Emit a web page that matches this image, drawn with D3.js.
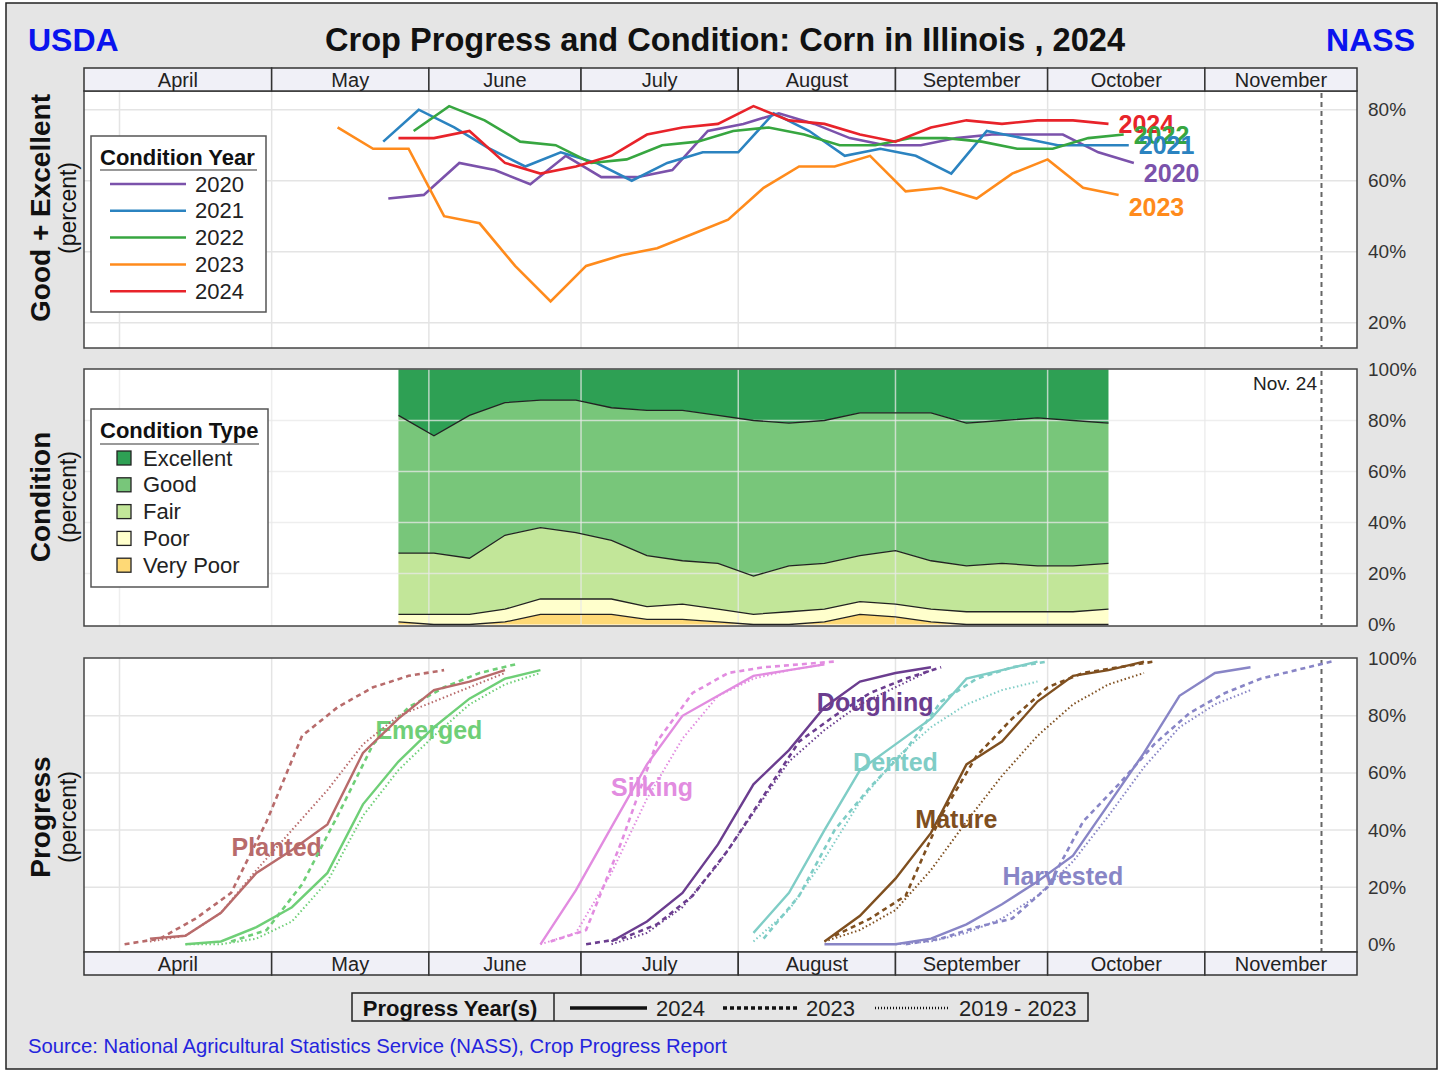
<!DOCTYPE html>
<html>
<head>
  <meta charset="utf-8"/>
  <title>Crop Progress and Condition: Corn in Illinois, 2024</title>
  <style type="text/css">
    body {
      margin:0;
      padding:0;
      background-color:white;
      font-family: "Liberation Sans", Arial, sans-serif;
    }
    svg text { font-family: "Liberation Sans", Arial, sans-serif; }
  </style>
  <script src="https://cdn.jsdelivr.net/npm/d3@7"></script>
</head>
<body>
<script type="text/javascript">

  // ---- DATA ----
  // month header
  var monthNames = ["April", "May", "June", "July", "August", "September", "October", "November"];
  var monthEdges = ["2024-03-25", "2024-05-01", "2024-06-01", "2024-07-01", "2024-08-01",
                    "2024-09-01", "2024-10-01", "2024-11-01", "2024-12-01"];
  var monthStarts = ["2024-04-01", "2024-05-01", "2024-06-01", "2024-07-01", "2024-08-01",
                     "2024-09-01", "2024-10-01", "2024-11-01"];
  var reportDate = "2024-11-24";

  // good + excellent by year (weekly, from start date)
  var years = ["2020", "2021", "2022", "2023", "2024"];
  var yearStart = ["05-24", "05-23", "05-29", "05-14", "05-26"];
  var ge2020 = [55,56,65,63,59,67,61,61,63,74,76,79,76,72,70,70,72,73,73,73,68,65];
  var ge2021 = [71,80,75,69,64,68,65,60,65,68,68,79,74,67,69,67,62,74,72,70,70,70];
  var ge2022 = [74,81,77,71,70,65,66,70,71,74,75,73,70,70,72,72,71,69,69,72,73];
  var ge2023 = [75,69,69,50,48,36,26,36,39,41,45,49,58,64,64,67,57,58,55,62,66,58,56];
  var ge2024 = [72,72,74,65,62,64,67,73,75,76,81,77,76,73,71,75,77,76,77,77,76];

  // 2024 condition by type (weekly from May 26)
  var condStart = "05-26";
  var condTypes = ["Excellent", "Good", "Fair", "Poor", "Very Poor"];
  var excellent = [18,26,18,13,12,12,15,16,16,18,20,21,20,17,17,17,21,20,19,20,21];
  var good      = [54,46,56,52,50,52,52,57,59,58,61,56,56,56,54,58,56,56,58,57,55];
  var fair      = [24,24,22,29,28,26,23,20,17,18,15,18,18,18,21,19,18,19,18,18,18];
  var poor      = [ 3, 4, 4, 5, 6, 6, 6, 5, 6, 5, 4, 5, 5, 5, 5, 5, 5, 5, 5, 5, 6];
  var veryPoor  = [ 1, 0, 0, 1, 4, 4, 4, 2, 2, 1, 0, 0, 1, 4, 3, 1, 0, 0, 0, 0, 0];

  // progress (weekly, from start dates)
  var stages = ["Planted", "Emerged", "Silking", "Doughing", "Dented", "Mature", "Harvested"];
  var start2024 = ["04-07", "04-14", "06-23", "07-07", "08-04", "08-18", "08-18"];
  var start2023 = ["04-02", "04-23", "06-25", "07-02", "08-06", "08-20", "09-03"];
  var startAvg  = ["04-07", "04-14", "06-23", "07-07", "08-04", "08-18", "09-01"];

  var planted2024   = [2,3,11,25,33,42,67,79,89,92,96];
  var planted2023   = [0,2,9,18,43,73,83,90,94,96];
  var plantedAvg    = [1,3,11,26,40,54,70,80,85,90,95];
  var emerged2024   = [0,1,6,13,25,49,64,76,86,93,96];
  var emerged2023   = [1,5,21,45,70,83,90,95,98];
  var emergedAvg    = [0,0,2,8,22,45,61,73,84,91,95];
  var silking2024   = [0,19,41,63,80,87,94,96,98];
  var silking2023   = [1,5,36,71,88,95,97,98,99];
  var silkingAvg    = [0,4,25,51,72,87,93,96,98];
  var doughing2024  = [1,8,18,35,56,68,83,92,95,97];
  var doughing2023  = [0,2,7,17,33,52,71,80,88,93,97];
  var doughingAvg   = [0,4,13,28,46,64,75,84,90,96];
  var dented2024    = [4,18,40,61,70,79,93,96,99];
  var dented2023    = [2,17,40,55,68,85,93,97,99];
  var dentedAvg     = [1,12,30,50,65,76,84,89,92];
  var mature2024    = [1,10,23,39,63,71,85,94,96,99];
  var mature2023    = [3,9,17,45,66,79,90,95,97,99];
  var matureAvg     = [1,5,12,26,43,59,73,84,91,95];
  var harvested2024 = [0,0,0,2,7,14,22,31,49,67,87,95,97];
  var harvested2023 = [0,2,6,9,20,43,56,70,81,88,93,96,99];
  var harvestedAvg  = [0,1,4,9,17,29,45,62,76,84,89];

  // stage label anchors (date, percent)
  var labelDate  = ["05-02", "06-01", "07-15", "08-28", "09-01", "09-13", "10-04"];
  var labelValue = [34, 75, 55, 85, 64, 44, 24];

  // ---- COLORS ----
  var yearColors = ["#7b52ab", "#2b83c0", "#37a640", "#ff8b1c", "#e8232a"];
  var yearLabelDy = [10, 0, 0, 12, 0];
  var condColors = ["#2ea054", "#78c67a", "#c2e699", "#ffffcc", "#fed976"];
  var stageColors = ["#b86b6b", "#6fcf77", "#e28ce0", "#6b3d8f", "#7fcdc6", "#7f4f1f", "#8885c6"];

  var parse = d3.timeParse("%Y-%m-%d");
  function weekly(start, vals) {
    var d0 = parse("2024-" + start);
    return vals.map(function(v, i) { return {date: d3.timeDay.offset(d0, 7 * i), value: v}; });
  }

  var w = 1445, h = 1070;
  var svg = d3.select("body").append("svg")
              .attr("width", w)
              .attr("height", h);

  // frame
  svg.append("rect")
     .attr("x", 6).attr("y", 3).attr("width", 1431).attr("height", 1066)
     .style("fill", "#e5e5e5").style("stroke", "#222").style("stroke-width", 1.5);

  // title
  svg.append("text").attr("x", 28).attr("y", 51)
     .style("font-size", "32px").style("font-weight", "bold").style("fill", "#0a14ee")
     .text("USDA");
  svg.append("text").attr("x", 1415).attr("y", 51).attr("text-anchor", "end")
     .style("font-size", "32px").style("font-weight", "bold").style("fill", "#0a14ee")
     .text("NASS");
  svg.append("text").attr("x", 725).attr("y", 51).attr("text-anchor", "middle")
     .style("font-size", "32.6px").style("font-weight", "bold").style("fill", "#111")
     .text("Crop Progress and Condition: Corn in Illinois , 2024");

  // scales
  var x = d3.scaleTime().domain([parse(monthEdges[0]), parse(monthEdges[8])]).range([84, 1357]);
  var topP = {y0: 91, y1: 348}, midP = {y0: 369, y1: 626}, botP = {y0: 658, y1: 952};
  var yTop = d3.scaleLinear().domain([20, 80]).range([322.7, 109.7]);
  var yMid = d3.scaleLinear().domain([0, 100]).range([624.5, 369.5]);
  var yBot = d3.scaleLinear().domain([0, 100]).range([944.3, 658.7]);

  function panelBg(p) {
    svg.append("rect").attr("x", 84).attr("y", p.y0).attr("width", 1357 - 84).attr("height", p.y1 - p.y0)
       .style("fill", "white");
  }
  function grid(p, y, ticks, color) {
    var g = svg.append("g");
    g.selectAll(".v").data(monthStarts).enter().append("line")
     .attr("x1", function(d) { return x(parse(d)); }).attr("x2", function(d) { return x(parse(d)); })
     .attr("y1", p.y0).attr("y2", p.y1)
     .style("stroke", color).style("stroke-width", 1.5);
    g.selectAll(".h").data(ticks).enter().append("line")
     .attr("x1", 84).attr("x2", 1357)
     .attr("y1", function(d) { return y(d); }).attr("y2", function(d) { return y(d); })
     .style("stroke", color).style("stroke-width", 1.5);
  }
  function border(p) {
    svg.append("rect").attr("x", 84).attr("y", p.y0).attr("width", 1357 - 84).attr("height", p.y1 - p.y0)
       .style("fill", "none").style("stroke", "#444").style("stroke-width", 1.5);
  }
  function novLine(p) {
    svg.append("line").attr("x1", x(parse(reportDate))).attr("x2", x(parse(reportDate)))
       .attr("y1", p.y0 + 2).attr("y2", p.y1 - 1)
       .style("stroke", "#666").style("stroke-width", 2).style("stroke-dasharray", "5,4");
  }
  function rightAxis(y, ticks) {
    svg.append("g").selectAll("text").data(ticks).enter().append("text")
       .attr("x", 1368).attr("y", function(d) { return y(d); })
       .attr("dominant-baseline", "central")
       .style("font-size", "19px").style("fill", "#333")
       .text(function(d) { return d + "%"; });
  }
  function monthHeader(y0, hh) {
    var g = svg.append("g");
    var cells = monthNames.map(function(m, i) { return {name: m, a: x(parse(monthEdges[i])), b: x(parse(monthEdges[i + 1]))}; });
    g.selectAll("rect").data(cells).enter().append("rect")
     .attr("x", function(d) { return d.a; }).attr("y", y0)
     .attr("width", function(d) { return d.b - d.a; }).attr("height", hh)
     .style("fill", "#f0f0f7").style("stroke", "#333").style("stroke-width", 1.5);
    g.selectAll("text").data(cells).enter().append("text")
     .attr("x", function(d) { return (d.a + d.b) / 2; }).attr("y", y0 + hh / 2)
     .attr("text-anchor", "middle").attr("dominant-baseline", "central")
     .style("font-size", "20px").style("fill", "#222")
     .text(function(d) { return d.name; });
  }
  function yTitle(cy, main) {
    svg.append("text").attr("transform", "translate(50," + cy + ") rotate(-90)")
       .attr("text-anchor", "middle")
       .style("font-size", "28px").style("font-weight", "bold").style("fill", "#111")
       .text(main);
    svg.append("text").attr("transform", "translate(76," + cy + ") rotate(-90)")
       .attr("text-anchor", "middle")
       .style("font-size", "23px").style("fill", "#111")
       .text("(percent)");
  }

  // ---- TOP PANEL: good + excellent ----
  panelBg(topP);
  grid(topP, yTop, [20, 40, 60, 80], "#e4e4e4");
  novLine(topP);
  var geSeries = [ge2020, ge2021, ge2022, ge2023, ge2024].map(function(vals, i) { return weekly(yearStart[i], vals); });
  var topLine = d3.line().x(function(d) { return x(d.date); }).y(function(d) { return yTop(d.value); });
  svg.append("g").selectAll("path").data(geSeries).enter().append("path")
     .attr("d", topLine)
     .style("fill", "none").style("stroke-width", 2.6)
     .style("stroke", function(d, i) { return yearColors[i]; });
  // end labels (drawn latest year first)
  [4, 3, 2, 1, 0].forEach(function(i) {
    var last = geSeries[i][geSeries[i].length - 1];
    svg.append("text").attr("x", x(last.date) + 10).attr("y", yTop(last.value) + yearLabelDy[i])
       .attr("dominant-baseline", "central")
       .style("font-size", "25px").style("font-weight", "bold").style("fill", yearColors[i])
       .text(years[i]);
  });
  border(topP);
  monthHeader(68, 23);
  rightAxis(yTop, [20, 40, 60, 80]);
  yTitle(208, "Good + Excellent");

  // legend: condition year
  var lg1 = svg.append("g");
  lg1.append("rect").attr("x", 91).attr("y", 136).attr("width", 175).attr("height", 176)
     .style("fill", "white").style("stroke", "#555").style("stroke-width", 1.5);
  lg1.append("text").attr("x", 100).attr("y", 165)
     .style("font-size", "22px").style("font-weight", "bold").style("fill", "#111").text("Condition Year");
  lg1.append("line").attr("x1", 100).attr("x2", 257).attr("y1", 170).attr("y2", 170)
     .style("stroke", "#999").style("stroke-width", 2);
  years.forEach(function(yr, i) {
    var cy = 184 + i * 26.8;
    lg1.append("line").attr("x1", 110).attr("x2", 186).attr("y1", cy).attr("y2", cy)
       .style("stroke", yearColors[i]).style("stroke-width", 2.5);
    lg1.append("text").attr("x", 195).attr("y", cy).attr("dominant-baseline", "central")
       .style("font-size", "22px").style("fill", "#222").text(yr);
  });

  // ---- MIDDLE PANEL: condition ----
  panelBg(midP);
  var condDates = weekly(condStart, excellent).map(function(d) { return d.date; });
  var condRows = condDates.map(function(d, i) {
    return {date: d, "Very Poor": veryPoor[i], "Poor": poor[i], "Fair": fair[i], "Good": good[i], "Excellent": excellent[i]};
  });
  var stackKeys = ["Very Poor", "Poor", "Fair", "Good", "Excellent"];
  var stacked = d3.stack().keys(stackKeys)(condRows);
  var area = d3.area().x(function(d) { return x(d.data.date); })
               .y0(function(d) { return yMid(d[0]); }).y1(function(d) { return yMid(d[1]); });
  svg.append("g").selectAll("path").data(stacked).enter().append("path")
     .attr("d", area)
     .style("fill", function(d) { return condColors[condTypes.indexOf(d.key)]; });
  grid(midP, yMid, [20, 40, 60, 80], "rgba(232,232,232,0.75)");
  var edge = d3.line().x(function(d) { return x(d.data.date); }).y(function(d) { return yMid(d[1]); });
  svg.append("g").selectAll("path").data(stacked.slice(0, 4)).enter().append("path")
     .attr("d", edge)
     .style("fill", "none").style("stroke", "#222").style("stroke-width", 1.3);
  novLine(midP);
  svg.append("text").attr("x", 1317).attr("y", 390).attr("text-anchor", "end")
     .style("font-size", "19px").style("fill", "#222").text("Nov. 24");
  border(midP);
  rightAxis(yMid, [0, 20, 40, 60, 80, 100]);
  yTitle(497, "Condition");

  // legend: condition type
  var lg2 = svg.append("g");
  lg2.append("rect").attr("x", 91).attr("y", 409).attr("width", 177).attr("height", 178)
     .style("fill", "white").style("stroke", "#555").style("stroke-width", 1.5);
  lg2.append("text").attr("x", 100).attr("y", 438)
     .style("font-size", "22px").style("font-weight", "bold").style("fill", "#111").text("Condition Type");
  lg2.append("line").attr("x1", 100).attr("x2", 259).attr("y1", 444).attr("y2", 444)
     .style("stroke", "#999").style("stroke-width", 2);
  condTypes.forEach(function(t, i) {
    var cy = 458 + i * 26.8;
    lg2.append("rect").attr("x", 117).attr("y", cy - 7).attr("width", 14).attr("height", 14)
       .style("fill", condColors[i]).style("stroke", "#222").style("stroke-width", 1.3);
    lg2.append("text").attr("x", 143).attr("y", cy).attr("dominant-baseline", "central")
       .style("font-size", "22px").style("fill", "#222").text(t);
  });

  // ---- BOTTOM PANEL: progress ----
  panelBg(botP);
  grid(botP, yBot, [20, 40, 60, 80], "#e4e4e4");
  novLine(botP);
  var prog2024 = [planted2024, emerged2024, silking2024, doughing2024, dented2024, mature2024, harvested2024];
  var prog2023 = [planted2023, emerged2023, silking2023, doughing2023, dented2023, mature2023, harvested2023];
  var progAvg  = [plantedAvg, emergedAvg, silkingAvg, doughingAvg, dentedAvg, matureAvg, harvestedAvg];

  // stage labels under the lines
  svg.append("g").selectAll("text").data(stages).enter().append("text")
     .attr("x", function(d, i) { return x(parse("2024-" + labelDate[i])); })
     .attr("y", function(d, i) { return yBot(labelValue[i]); })
     .attr("text-anchor", "middle").attr("dominant-baseline", "central")
     .style("font-size", "25px").style("font-weight", "bold")
     .style("fill", function(d, i) { return stageColors[i]; })
     .text(function(d) { return d; });

  var botLine = d3.line().x(function(d) { return x(d.date); }).y(function(d) { return yBot(d.value); });
  var styles = [
    {data: progAvg, starts: startAvg, dash: "1.5,2.5", width: 2},
    {data: prog2023, starts: start2023, dash: "5,4", width: 2.6},
    {data: prog2024, starts: start2024, dash: null, width: 2.4}
  ];
  styles.forEach(function(s) {
    svg.append("g").selectAll("path").data(s.data).enter().append("path")
       .attr("d", function(vals, i) { return botLine(weekly(s.starts[i], vals)); })
       .style("fill", "none")
       .style("stroke", function(d, i) { return stageColors[i]; })
       .style("stroke-width", s.width)
       .style("stroke-dasharray", s.dash);
  });
  border(botP);
  monthHeader(952, 23);
  rightAxis(yBot, [0, 20, 40, 60, 80, 100]);
  yTitle(817, "Progress");

  // legend: progress years
  var lg3 = svg.append("g");
  lg3.append("rect").attr("x", 352).attr("y", 993).attr("width", 736).attr("height", 28)
     .style("fill", "#e5e5e5").style("stroke", "#222").style("stroke-width", 1.5);
  lg3.append("line").attr("x1", 554).attr("x2", 554).attr("y1", 993).attr("y2", 1021)
     .style("stroke", "#222").style("stroke-width", 1.5);
  lg3.append("text").attr("x", 450).attr("y", 1008).attr("text-anchor", "middle").attr("dominant-baseline", "central")
     .style("font-size", "22px").style("font-weight", "bold").style("fill", "#111").text("Progress Year(s)");
  var progKeys = [
    {label: "2024", a: 570, b: 647, dash: null, width: 3.5},
    {label: "2023", a: 723, b: 797, dash: "4,3", width: 3.5},
    {label: "2019 - 2023", a: 875, b: 950, dash: "1,2", width: 2.5}
  ];
  progKeys.forEach(function(k) {
    lg3.append("line").attr("x1", k.a).attr("x2", k.b).attr("y1", 1008).attr("y2", 1008)
       .style("stroke", "#111").style("stroke-width", k.width).style("stroke-dasharray", k.dash);
    lg3.append("text").attr("x", k.b + 9).attr("y", 1008).attr("dominant-baseline", "central")
       .style("font-size", "22px").style("fill", "#222").text(k.label);
  });

  // source
  svg.append("text").attr("x", 28).attr("y", 1046).attr("dominant-baseline", "central")
     .style("font-size", "20.3px").style("fill", "#2424dd")
     .text("Source: National Agricultural Statistics Service (NASS), Crop Progress Report");

</script>
</body>
</html>
